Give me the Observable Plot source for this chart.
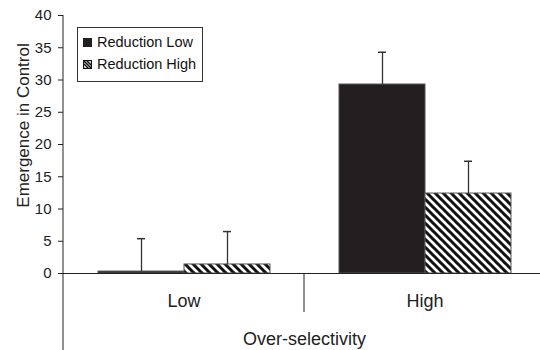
<!DOCTYPE html>
<html>
<head>
<meta charset="utf-8">
<script src="https://cdn.jsdelivr.net/npm/d3@7"></script>
<script src="https://cdn.jsdelivr.net/npm/@observablehq/plot@0.6"></script>
<style>
  html, body { margin: 0; padding: 0; background: #fff; }
  #wrap { position: relative; width: 540px; height: 350px; font-family: "Liberation Sans", Arial, sans-serif; }
  #legend { position: absolute; left: 77px; top: 27px; width: 124px; height: 53px; border: 1px solid #333;
    background: #fff; font-size: 14.5px; color: #111; }
  #legend .row { position: absolute; left: 5px; display: flex; align-items: center; white-space: nowrap; }
  #legend svg { margin-right: 5px; }
</style>
</head>
<body>
<div id="wrap"></div>
<script>
const categories = ["Low", "High"];
const series = ["Reduction Low", "Reduction High"];
const meanReductionLow = [0.3, 29.3];
const meanReductionHigh = [1.4, 12.4];
const errReductionLow = [5.1, 5.0];
const errReductionHigh = [5.1, 5.0];
const yTicks = [0, 5, 10, 15, 20, 25, 30, 35, 40];
const xTitle = "Over-selectivity";
const yTitle = "Emergence in Control";

const rows = categories.flatMap((c, i) => [
  {category: c, series: series[0], value: meanReductionLow[i], err: errReductionLow[i]},
  {category: c, series: series[1], value: meanReductionHigh[i], err: errReductionHigh[i]}
]);

const ink = "#222";
const plot = Plot.plot({
  width: 540,
  height: 350,
  marginLeft: 62,
  marginRight: -5,
  marginTop: 15,
  marginBottom: 77,
  style: {fontFamily: "'Liberation Sans', Arial, sans-serif", fontSize: "15px", background: "transparent", color: ink, overflow: "visible"},
  fx: {domain: categories, padding: 0, label: null},
  x: {domain: series, paddingInner: 0, paddingOuter: 0.4, axis: null},
  y: {domain: [0, 40], axis: null},
  color: {domain: series, range: ["#231f20", "url(#hatch)"]},
  marks: [
    Plot.barY(rows, {fx: "category", x: "series", y: "value", fill: "series", stroke: "#555", strokeWidth: 1}),
    Plot.ruleX(rows, {fx: "category", x: "series", y1: "value", y2: d => d.value + d.err, stroke: "#333", strokeWidth: 1.3}),
    Plot.tickY(rows, {fx: "category", x: "series", y: d => d.value + d.err, insetLeft: 39, insetRight: 39, stroke: "#333", strokeWidth: 1.5}),
    Plot.ruleY([0], {stroke: ink, strokeWidth: 1}),
    Plot.axisY({ticks: yTicks, tickSize: 5, tickPadding: 7, fontSize: 15, label: null, anchor: "left", stroke: ink}),
    Plot.axisFx({anchor: "bottom", tickSize: 0, tickPadding: 21, fontSize: 18, label: xTitle, labelAnchor: "center", labelOffset: 71}),
    Plot.text([yTitle], {fx: [categories[0]], frameAnchor: "left", textAnchor: "middle", rotate: -90, dx: -40, dy: -19, fontSize: 17, fill: ink})
  ]
});

const svg = d3.select(plot);
svg.insert("defs", ":first-child").html(
  `<pattern id="hatch" patternUnits="userSpaceOnUse" width="8" height="8">
     <rect width="8" height="8" fill="#fff"/>
     <path d="M-4,4 L4,12 M0,0 L8,8 M4,-4 L12,4" stroke="#111" stroke-width="3"/>
   </pattern>`
);
const fxS = plot.scale("fx"), yS = plot.scale("y");
svg.append("line")
  .attr("x1", fxS.apply(categories[0])).attr("x2", fxS.apply(categories[0]))
  .attr("y1", yS.apply(40)).attr("y2", 350)
  .attr("stroke", ink).attr("stroke-width", 1);
svg.append("line")
  .attr("x1", fxS.apply(categories[1])).attr("x2", fxS.apply(categories[1]))
  .attr("y1", yS.apply(0)).attr("y2", yS.apply(0) + 39)
  .attr("stroke", ink).attr("stroke-width", 1);

const wrap = document.getElementById("wrap");
wrap.appendChild(plot);

const legend = document.createElement("div");
legend.id = "legend";
legend.innerHTML = `
  <div class="row" style="top:6px">
    <svg width="9" height="9"><rect width="9" height="9" fill="#231f20"/></svg>${series[0]}
  </div>
  <div class="row" style="top:28px">
    <svg width="9" height="9"><rect x="0.5" y="0.5" width="8" height="8" fill="#fff" stroke="#111" stroke-width="1.3"/><path d="M1,1 L8,8 M1,4 L5,8 M4,1 L8,5" stroke="#111" stroke-width="1.6"/></svg>${series[1]}
  </div>`;
wrap.appendChild(legend);
</script>
</body>
</html>
